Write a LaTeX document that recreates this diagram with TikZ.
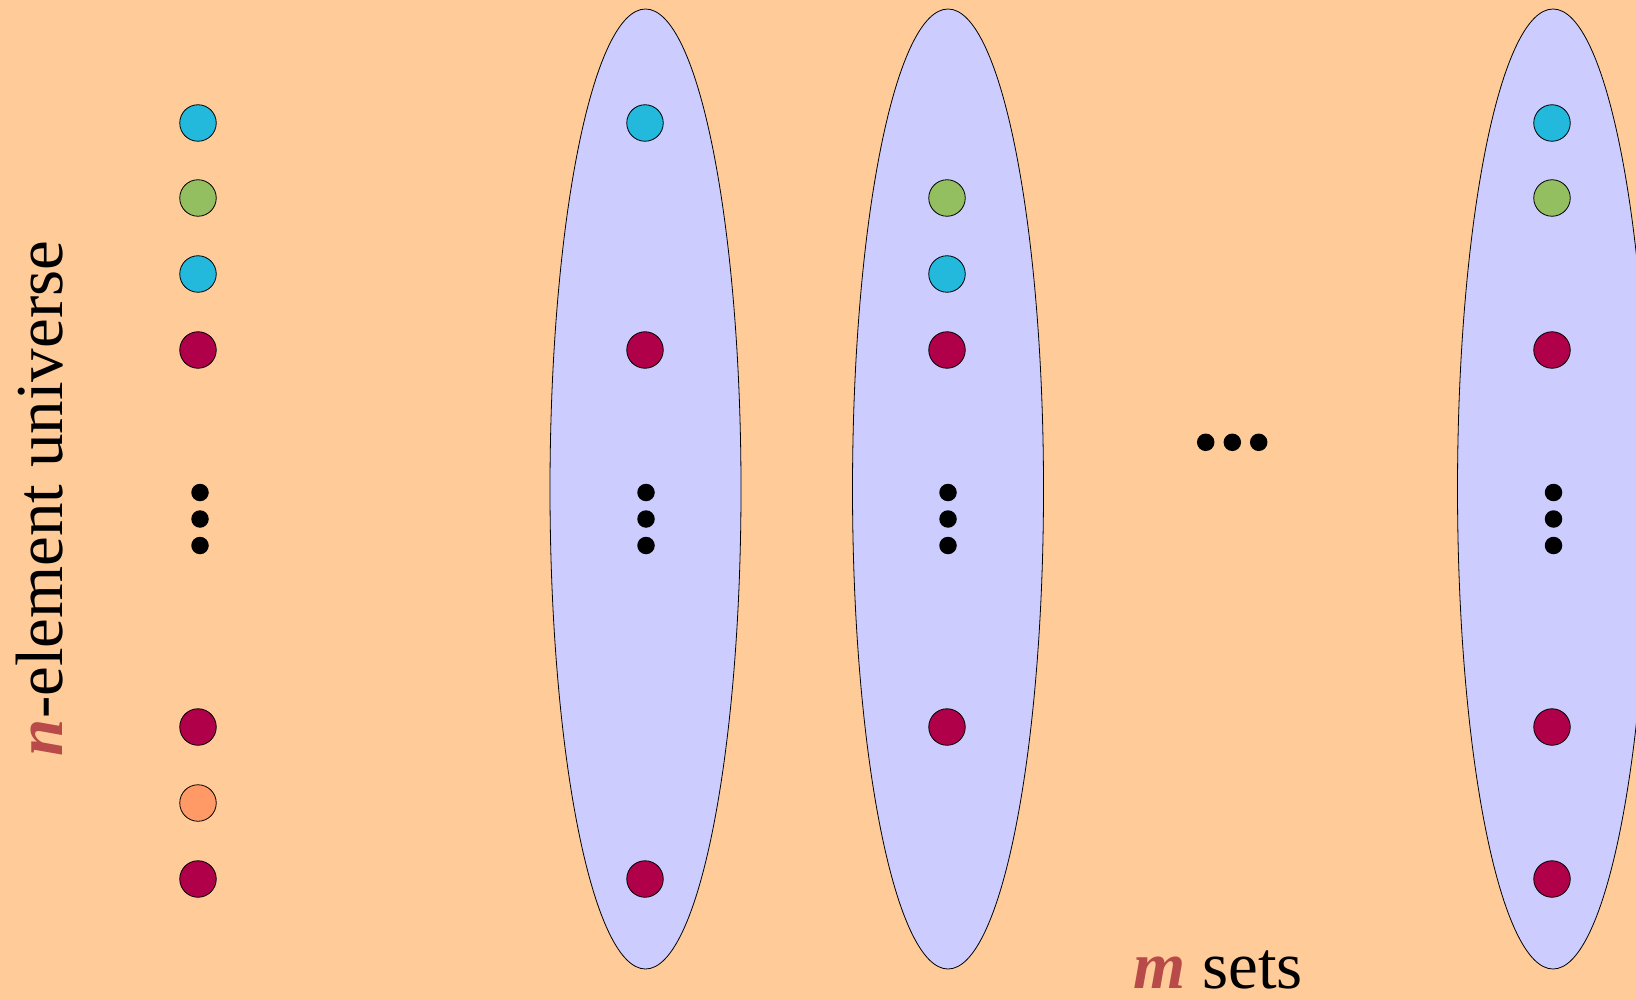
\documentclass[tikz,border=0pt]{standalone}
\usepackage{fontspec}
\setmainfont{Liberation Serif}
\usetikzlibrary{shapes.geometric}
\definecolor{bgpeach}{HTML}{FFCC99}
\definecolor{setfill}{HTML}{CCCCFF}
\definecolor{elblue}{HTML}{22B9DC}
\definecolor{elgreen}{HTML}{93BF60}
\definecolor{elred}{HTML}{B0004A}
\definecolor{elorange}{HTML}{FF9966}
\definecolor{varred}{HTML}{B84A4A}
\begin{document}
\begin{tikzpicture}[x=1pt,y=-1pt,
  setoval/.style={ellipse, draw=black, line width=0.8pt, fill=setfill,
    minimum width=191pt, minimum height=960pt, inner sep=0pt},
  elem/.style={circle, draw=black, line width=0.8pt, minimum size=36.5pt, inner sep=0pt},
  eblue/.style={elem, fill=elblue},
  egreen/.style={elem, fill=elgreen},
  ered/.style={elem, fill=elred},
  eorange/.style={elem, fill=elorange},
  dotmark/.style={circle, fill=black, minimum size=17.5pt, inner sep=0pt},
  bigtext/.style={font=\fontsize{67}{80}\selectfont, inner sep=0pt}]
% page background
\fill[bgpeach] (0,0) rectangle (1636,1000);
\useasboundingbox (0,0) rectangle (1636,1000);

% the sets
\node[setoval] (setA) at (645.5,489) {};
\node[setoval] (setB) at (948,489) {};
\node[setoval] (setC) at (1553,489) {};

% universe column
\node[eblue]   (u1) at (198,123) {};
\node[egreen]  (u2) at (198,198) {};
\node[eblue]   (u3) at (198,274) {};
\node[ered]    (u4) at (198,350) {};
\node[dotmark] (ud1) at (200,492.5) {};
\node[dotmark] (ud2) at (200,519) {};
\node[dotmark] (ud3) at (200,545.5) {};
\node[ered]    (u7) at (198,727) {};
\node[eorange] (u8) at (198,803) {};
\node[ered]    (u9) at (198,879) {};

% first set
\node[eblue]   (a1) at (645,123) {};
\node[ered]    (a4) at (645,350) {};
\node[dotmark] (ad1) at (646,492.5) {};
\node[dotmark] (ad2) at (646,519) {};
\node[dotmark] (ad3) at (646,545.5) {};
\node[ered]    (a9) at (645,879) {};

% second set
\node[egreen]  (b2) at (947,198) {};
\node[eblue]   (b3) at (947,274) {};
\node[ered]    (b4) at (947,350) {};
\node[dotmark] (bd1) at (948,492.5) {};
\node[dotmark] (bd2) at (948,519) {};
\node[dotmark] (bd3) at (948,545.5) {};
\node[ered]    (b7) at (947,727) {};

% horizontal ellipsis between sets
\node[dotmark] (hd1) at (1205.7,442.3) {};
\node[dotmark] (hd2) at (1232.3,442.3) {};
\node[dotmark] (hd3) at (1258.7,442.3) {};

% last set
\node[eblue]   (c1) at (1552,123) {};
\node[egreen]  (c2) at (1552,198) {};
\node[ered]    (c4) at (1552,350) {};
\node[dotmark] (cd1) at (1553.5,492.5) {};
\node[dotmark] (cd2) at (1553.5,519) {};
\node[dotmark] (cd3) at (1553.5,545.5) {};
\node[ered]    (c7) at (1552,727) {};
\node[ered]    (c9) at (1552,879) {};

% labels
\node[bigtext, rotate=90, anchor=base] (universe) at (62,498.5)
  {\textcolor{varred}{\textbf{\textit{n}}}-element universe};
\node[bigtext, anchor=base] (msets) at (1218,988)
  {\textcolor{varred}{\textbf{\textit{m}}} sets};
\end{tikzpicture}
\end{document}
